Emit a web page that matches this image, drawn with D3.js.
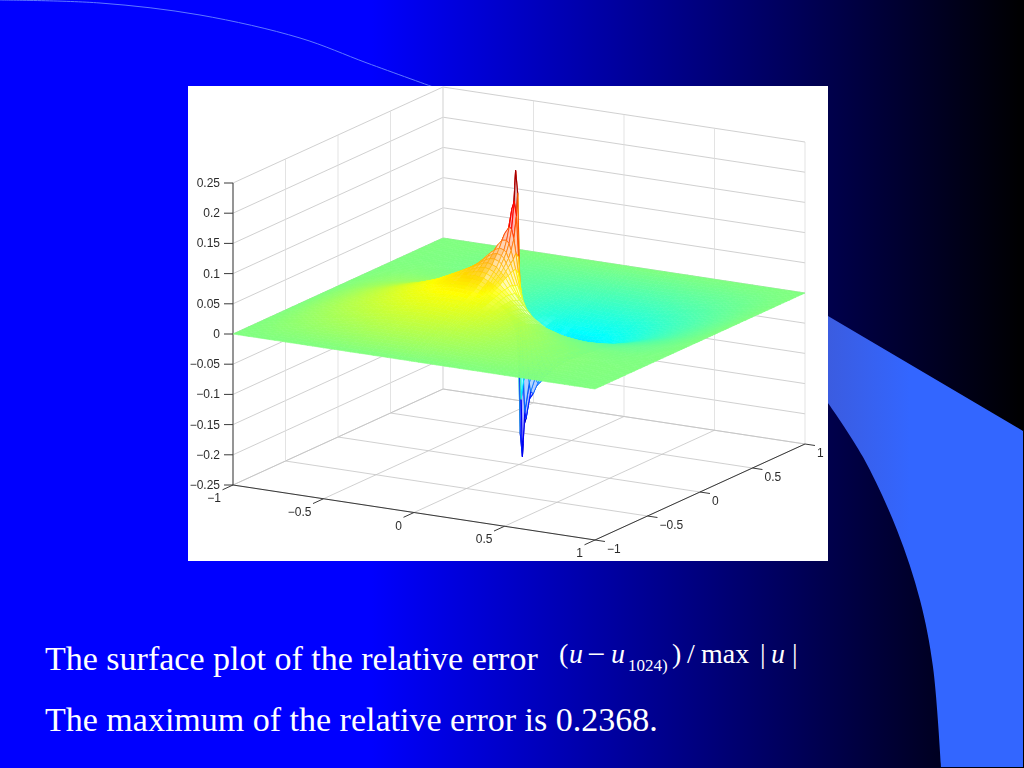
<!DOCTYPE html>
<html><head><meta charset="utf-8">
<script src="https://cdn.jsdelivr.net/npm/d3@7/dist/d3.min.js"></script>
<style>html,body{margin:0;padding:0;background:#00f;overflow:hidden}svg{display:block}</style>
</head><body>
<script>
const xNodes=[-1,-.8,-.62,-.47,-.35,-.25,-.17,-.1,-.075,-.05,-.025,-.012,0,.012,.025,.05,.075,.1,.17,.25,.35,.47,.62,.8,1];
const yNodes=[1,.8,.62,.47,.35,.25,.17,.1,.075,.05,.025,.012,0,-.012,-.025,-.05,-.075,-.1,-.17,-.25,-.35,-.47,-.62,-.8,-1];
const zRows=[
[0,0,0,0,0,0,0,0,0,0,0,0,0,0,0,0,0,0,0,0,0,0,0,0,0],
[0,-.001,-.004,-.007,-.010,-.012,-.014,-.016,-.016,-.017,-.017,-.017,-.018,-.018,-.018,-.018,-.019,-.019,-.019,-.019,-.018,-.015,-.012,-.007,0],
[0,-.001,-.004,-.009,-.015,-.020,-.025,-.028,-.029,-.031,-.032,-.032,-.032,-.033,-.033,-.034,-.034,-.035,-.036,-.035,-.033,-.028,-.021,-.011,0],
[0,.001,-.002,-.007,-.015,-.023,-.031,-.038,-.040,-.042,-.044,-.045,-.046,-.047,-.047,-.048,-.049,-.050,-.051,-.049,-.045,-.037,-.027,-.014,0],
[0,.003,.003,-.002,-.010,-.021,-.032,-.043,-.047,-.051,-.053,-.055,-.057,-.058,-.059,-.061,-.062,-.063,-.063,-.060,-.052,-.042,-.029,-.015,0],
[0,.006,.008,.005,-.002,-.013,-.028,-.045,-.052,-.058,-.063,-.066,-.068,-.070,-.072,-.076,-.077,-.078,-.075,-.067,-.056,-.044,-.030,-.015,0],
[0,.008,.012,.013,.009,0,-.016,-.040,-.050,-.061,-.073,-.077,-.081,-.085,-.089,-.092,-.094,-.092,-.082,-.070,-.055,-.042,-.029,-.015,0],
[0,.009,.016,.020,.021,.017,.006,-.020,-.036,-.057,-.080,-.091,-.099,-.108,-.112,-.114,-.110,-.104,-.083,-.066,-.051,-.039,-.026,-.014,0],
[0,.010,.018,.023,.025,.024,.017,-.005,-.022,-.047,-.080,-.096,-.110,-.121,-.126,-.125,-.116,-.104,-.079,-.062,-.049,-.037,-.026,-.013,0],
[0,.011,.019,.026,.030,.032,.029,.015,.000,-.026,-.072,-.104,-.127,-.143,-.146,-.134,-.116,-.100,-.074,-.058,-.046,-.035,-.024,-.013,0],
[0,.011,.020,.028,.034,.038,.042,.040,.035,.019,-.034,-.096,-.163,-.187,-.174,-.129,-.105,-.088,-.065,-.052,-.042,-.033,-.023,-.012,0],
[0,.012,.021,.030,.036,.043,.049,.055,.056,.054,.027,-.044,-.200,-.237,-.163,-.113,-.091,-.079,-.060,-.049,-.040,-.032,-.022,-.012,0],
[0,.012,.022,.031,.038,.046,.055,.067,.075,.086,.110,.141,0,-.141,-.110,-.086,-.075,-.067,-.055,-.046,-.038,-.031,-.022,-.012,0],
[0,.012,.022,.032,.040,.049,.060,.079,.091,.113,.163,.237,.200,.044,-.027,-.054,-.056,-.055,-.049,-.043,-.036,-.030,-.021,-.012,0],
[0,.012,.023,.033,.042,.052,.065,.088,.105,.129,.174,.187,.163,.096,.034,-.019,-.035,-.040,-.042,-.038,-.034,-.028,-.020,-.011,0],
[0,.013,.024,.035,.046,.058,.074,.100,.116,.134,.146,.143,.127,.104,.072,.026,.000,-.015,-.029,-.032,-.030,-.026,-.019,-.011,0],
[0,.013,.026,.037,.049,.062,.079,.104,.116,.125,.126,.121,.110,.096,.080,.047,.022,.005,-.017,-.024,-.025,-.023,-.018,-.010,0],
[0,.014,.026,.039,.051,.066,.083,.104,.110,.114,.112,.108,.099,.091,.080,.057,.036,.020,-.006,-.017,-.021,-.020,-.016,-.009,0],
[0,.015,.029,.042,.055,.070,.082,.092,.094,.092,.089,.085,.081,.077,.073,.061,.050,.040,.016,0,-.009,-.013,-.012,-.008,0],
[0,.015,.030,.044,.056,.067,.075,.078,.077,.076,.072,.070,.068,.066,.063,.058,.052,.045,.028,.013,.002,-.005,-.008,-.006,0],
[0,.015,.029,.042,.052,.060,.063,.063,.062,.061,.059,.058,.057,.055,.053,.051,.047,.043,.032,.021,.010,.002,-.003,-.003,0],
[0,.014,.027,.037,.045,.049,.051,.050,.049,.048,.047,.047,.046,.045,.044,.042,.040,.038,.031,.023,.015,.007,.002,-.001,0],
[0,.011,.021,.028,.033,.035,.036,.035,.034,.034,.033,.033,.032,.032,.032,.031,.029,.028,.025,.020,.015,.009,.004,.001,0],
[0,.007,.012,.015,.018,.019,.019,.019,.019,.018,.018,.018,.018,.017,.017,.017,.016,.016,.014,.012,.010,.007,.004,.001,0],
[0,0,0,0,0,0,0,0,0,0,0,0,0,0,0,0,0,0,0,0,0,0,0,0,0]];
const xyTicks=[-1,-.5,0,.5,1];
const zTicks=[-.25,-.2,-.15,-.1,-.05,0,.05,.1,.15,.2,.25];
const zMax=.2368;
const jetStops=["#00008f","#0000ff","#00ffff","#ffff00","#ff0000","#800000"];
const jetPos=[0,.125,.375,.625,.875,1];
const textLine1="The surface plot of the relative error";
const textLine2="The maximum of the relative error is 0.2368.";

const W=1024,H=768;
const svg=d3.select("body").append("svg").attr("width",W).attr("height",H);
const defs=svg.append("defs");
const bg=defs.append("linearGradient").attr("id","bg");
bg.append("stop").attr("offset",.36).attr("stop-color","#0000ff");
bg.append("stop").attr("offset",1).attr("stop-color","#000000");
const wave=defs.append("linearGradient").attr("id","wave").attr("gradientUnits","userSpaceOnUse")
  .attr("x1",828).attr("x2",910).attr("y1",0).attr("y2",0);
wave.append("stop").attr("offset",0).attr("stop-color","#3b5ce0");
wave.append("stop").attr("offset",1).attr("stop-color","#3366ff");
defs.append("filter").attr("id","soft").append("feGaussianBlur").attr("stdDeviation",.4);
defs.append("filter").attr("id","soft2").append("feGaussianBlur").attr("stdDeviation",.55);
defs.append("clipPath").attr("id","img").append("rect").attr("x",188).attr("y",86).attr("width",640).attr("height",475);

svg.append("rect").attr("width",W).attr("height",H).attr("fill","url(#bg)");

// slide decoration
const smooth=d3.line().curve(d3.curveCatmullRom.alpha(.5));
svg.append("path").attr("fill","none").attr("stroke","#5f78ff").attr("stroke-width",1)
  .attr("d",smooth([[0,0],[100,3],[200,15],[300,38],[367,63],[436,88]]));
const edge=[[828,403],[863,457],[897,530],[920,600],[933,667],[941,768]];
svg.append("path").attr("fill","url(#wave)")
  .attr("d","M828,316L1023,431L1023,767L941,767L"+smooth(edge.slice().reverse()).slice(1)+"Z");

// chart image
svg.append("rect").attr("x",188).attr("y",86).attr("width",640).attr("height",475).attr("fill","#fff");
const chart=svg.append("g").attr("clip-path","url(#img)").append("g").attr("filter","url(#soft)");

const xPx=d3.scaleLinear([-1,1],[-181,181]),xPy=d3.scaleLinear([-1,1],[-27.5,27.5]);
const yPx=d3.scaleLinear([-1,1],[-105,105]),yPy=d3.scaleLinear([-1,1],[48,-48]);
const zPy=d3.scaleLinear([-.25,.25],[151,-151]);
const P=(x,y,z)=>[519+xPx(x)+yPx(y),313.5+xPy(x)+yPy(y)+zPy(z)];
const jet=d3.scaleLinear(jetPos.map(t=>-zMax+2*zMax*t),jetStops).clamp(true);
const seg=(a,b,col,w)=>chart.append("line").attr("x1",a[0]).attr("y1",a[1]).attr("x2",b[0]).attr("y2",b[1]).attr("stroke",col).attr("stroke-width",w);

// walls and floor
const gridCol="#c4c4c4",gridV="#dcdcdc";
zTicks.forEach(z=>{seg(P(-1,-1,z),P(-1,1,z),gridCol,.8);seg(P(-1,1,z),P(1,1,z),gridCol,.8);});
xyTicks.forEach(t=>{
  seg(P(-1,t,-.25),P(-1,t,.25),gridV,.8);
  seg(P(t,1,-.25),P(t,1,.25),gridV,.8);
  seg(P(t,-1,-.25),P(t,1,-.25),gridCol,.8);
  seg(P(-1,t,-.25),P(1,t,-.25),gridCol,.8);
});

// axes
const ax="#3a3a3a";
seg(P(-1,-1,-.25),P(-1,-1,.25),ax,1);
seg(P(-1,-1,-.25),P(1,-1,-.25),ax,1);
seg(P(1,-1,-.25),P(1,1,-.25),ax,1);
const label=(p,s,anchor)=>chart.append("text").attr("x",p[0]).attr("y",p[1]).attr("text-anchor",anchor)
  .attr("dominant-baseline","central").attr("font-family","Liberation Sans").attr("font-size",12).attr("fill","#2c2c2c")
  .text(String(s).replace("-","\u2212"));
const fmt=v=>String(v);
zTicks.forEach(z=>{const p=P(-1,-1,z);seg(p,[p[0]-9,p[1]],ax,1);label([p[0]-13,p[1]],fmt(z),"end");});
xyTicks.forEach(t=>{
  const p=P(t,-1,-.25),q=P(t,-1.1,-.25);
  seg(p,q,ax,1);label([p[0]-12,p[1]+13],fmt(t),"end");
  const r=P(1,t,-.25),s=P(1.055,t,-.25);
  seg(r,s,ax,1);label([r[0]+12,r[1]+9],fmt(t),"start");
});

// surface: a mesh painted from the far corner to the near corner; each table cell is
// split into fine mesh quads so the lines sit as densely as in the original plot
const surf=chart.append("g").attr("filter","url(#soft2)");
const meshStep=.032;
for(let j=0;j<yNodes.length-1;j++){
  const nj=Math.ceil((yNodes[j]-yNodes[j+1])/meshStep-1e-6);
  for(let b=0;b<nj;b++){
    for(let i=0;i<xNodes.length-1;i++){
      const ni=Math.ceil((xNodes[i+1]-xNodes[i])/meshStep-1e-6);
      const z00=zRows[j][i],z10=zRows[j][i+1],z01=zRows[j+1][i],z11=zRows[j+1][i+1];
      const Z=(u,v)=>d3.interpolateNumber(d3.interpolateNumber(z00,z10)(u),d3.interpolateNumber(z01,z11)(u))(v);
      const X=d3.scaleLinear([0,1],[xNodes[i],xNodes[i+1]]),Y=d3.scaleLinear([0,1],[yNodes[j],yNodes[j+1]]);
      for(let a=0;a<ni;a++){
        const u0=a/ni,u1=(a+1)/ni,v0=b/nj,v1=(b+1)/nj;
        const zs=[Z(u0,v0),Z(u1,v0),Z(u1,v1),Z(u0,v1)];
        const pts=[P(X(u0),Y(v0),zs[0]),P(X(u1),Y(v0),zs[1]),P(X(u1),Y(v1),zs[2]),P(X(u0),Y(v1),zs[3])];
        const m=d3.mean(zs),rangePx=(d3.max(zs)-d3.min(zs))*604;
        const c=jet(m*(1+Math.min(.12,rangePx/150)));
        const tint=Math.max(0,Math.min(.7,(rangePx-2.5)/6));
        const w=rangePx>25?1.1:rangePx>8?.75:.6;
        surf.append("path").attr("d","M"+pts.map(p=>[p[0].toFixed(1),p[1].toFixed(1)]).join("L")+"Z")
          .attr("fill",d3.interpolateRgb(c,"#fff")(tint)).attr("stroke",c).attr("stroke-width",w).attr("stroke-linejoin","round");
      }
    }
  }
}

// caption
const T=(x,y,s,size,style)=>svg.append("text").attr("x",x).attr("y",y).attr("font-family","Liberation Serif")
  .attr("font-size",size).attr("font-style",style||"normal").attr("fill","#fff").text(s);
T(45,670,textLine1,34);
T(45,731,textLine2,34);
T(559,663,"(",28);T(569,663,"u",28,"italic");T(587,665,"\u2212",32);T(611,663,"u",28,"italic");
T(628,671,"1024)",17);T(672,663,")",28);T(687,663,"/",28);T(701,663,"max",28);T(760,663,"|",28);
T(771,663,"u",28,"italic");T(792,663,"|",28);
</script>
</body></html>
